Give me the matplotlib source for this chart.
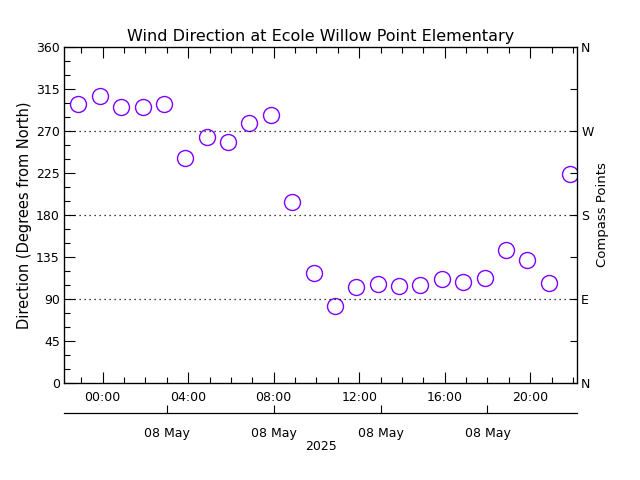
#!/usr/bin/python

import datetime
import matplotlib as mpl
mpl.use('Agg')
import matplotlib.pyplot as plt
import matplotlib.dates as mdates
import matplotlib.ticker as plticker

# hourly observations, 22:52 on 07 May to 21:52 on 08 May 2025
start = datetime.datetime(2025, 5, 7, 22, 52)
times = [start + datetime.timedelta(hours=i) for i in range(24)]
direction = [299, 307, 296, 296, 299, 241, 264, 258, 279, 287, 194, 118,
             83, 103, 106, 104, 105, 111, 108, 113, 142, 132, 107, 224]

title = 'Wind Direction at Ecole Willow Point Elementary'
ylabel = 'Direction (Degrees from North)'
y2label = 'Compass Points'
compass = ['N', 'E', 'S', 'W', 'N']
compass_deg = [0, 90, 180, 270, 360]

day0 = datetime.datetime(2025, 5, 8)
xmin = day0 - datetime.timedelta(hours=1.81)
xmax = day0 + datetime.timedelta(hours=22.19)

plt.rcParams['font.family'] = ['DejaVu Sans']
cmark = '#8000ff'
fs = 9

my_dpi = 100
fig = plt.figure(figsize=(6.4, 4.8), dpi=my_dpi)
ax = fig.add_axes([64/640, 1-383/480, 513/640, 336/480])

ax.plot(times, direction, linestyle='none', marker='o', markersize=11.5,
        markerfacecolor='none', markeredgecolor=cmark, markeredgewidth=1.0)

ax.set_ylim(0, 360)
ax.set_xlim(xmin, xmax)
for d in (90, 180, 270):
    ax.axhline(d, color='black', linewidth=0.9, linestyle=(0, (1, 3)))

ax.yaxis.set_major_locator(plticker.MultipleLocator(45))
ax.yaxis.set_minor_locator(plticker.MultipleLocator(15))
ax.xaxis.set_major_locator(mdates.HourLocator(byhour=range(0, 24, 4)))
ax.xaxis.set_minor_locator(mdates.HourLocator())
ax.xaxis.set_major_formatter(mdates.DateFormatter('%H:%M'))
ax.tick_params(which='major', direction='in', length=8, width=0.8,
               top=True, labelsize=fs, pad=6)
ax.tick_params(which='minor', direction='in', length=4, width=0.8, top=True)
ax.tick_params(axis='y', which='major', pad=3)
for s in ax.spines.values():
    s.set_linewidth(0.9)

ax.set_ylabel(ylabel, fontsize=10.5, labelpad=3)
ax.set_title(title, fontsize=11.5, pad=4)

# compass points on the right
axr = ax.twinx()
axr.set_ylim(0, 360)
axr.set_yticks(compass_deg)
axr.set_yticklabels(compass)
axr.yaxis.set_minor_locator(plticker.FixedLocator([45, 135, 225, 315]))
axr.tick_params(which='both', direction='in', length=5, width=0.8,
                labelsize=fs, pad=3)
axr.set_ylabel(y2label, fontsize=9.5, labelpad=2)

# date axis below
axd = fig.add_axes([64/640, 1-413/480, 513/640, 0.0001])
axd.set_xlim(xmin, xmax)
axd.set_yticks([])
for side in ('top', 'left', 'right'):
    axd.spines[side].set_visible(False)
axd.spines['bottom'].set_linewidth(0.9)
axd.set_facecolor('none')
axd.xaxis.set_major_locator(mdates.HourLocator(byhour=[3, 8, 13, 18]))
axd.xaxis.set_major_formatter(mdates.DateFormatter('%d %b'))
axd.tick_params(axis='x', direction='in', length=6, width=0.8,
                labelsize=fs, pad=10)
axd.set_xlabel('2025', fontsize=fs, labelpad=0)

plt.savefig('out.png', dpi=my_dpi, facecolor='white')
